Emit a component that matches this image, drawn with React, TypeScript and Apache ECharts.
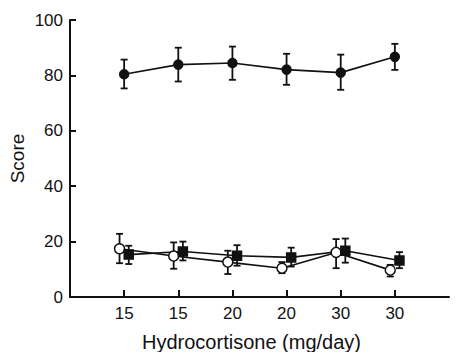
import React, { useEffect, useRef } from "react";
import * as echarts from "echarts";

const doses = ["15", "15", "20", "20", "30", "30"];
const yTicks = [0, 20, 40, 60, 80, 100];

// top series (filled circles)
const filledMean = [80.4, 83.9, 84.5, 82.1, 81.0, 86.7];
const filledLow = [75.3, 77.8, 78.4, 76.6, 74.8, 82.0];
const filledHigh = [85.7, 90.0, 90.4, 87.8, 87.5, 91.4];

// open circles
const openMean = [17.4, 14.8, 12.6, 10.4, 16.1, 9.7];
const openLow = [12.2, 10.2, 8.3, 8.6, 10.4, 7.4];
const openHigh = [22.8, 19.7, 16.7, 12.6, 20.9, 11.6];

// filled squares
const squareMean = [15.3, 16.4, 14.9, 14.3, 16.7, 13.2];
const squareLow = [11.9, 13.2, 11.3, 11.0, 12.4, 10.4];
const squareHigh = [18.5, 20.0, 18.7, 17.8, 21.1, 16.2];

const OPEN_SHIFT = -0.085;
const SQUARE_SHIFT = 0.085;
const FONT = "'Liberation Sans', Arial, Helvetica, sans-serif";
const INK = "#111";

function pts(vals: number[], shift: number) {
  return vals.map((v, i) => [i + 1 + shift, v]);
}
function bars(low: number[], high: number[], shift: number) {
  return low.map((l, i) => [i + 1 + shift, l, high[i]]);
}

function errorSeries(data: number[][]) {
  return {
    type: "custom",
    z: 2,
    data,
    renderItem: (params: any, api: any) => {
      const x = api.value(0);
      const lo = api.coord([x, api.value(1)]);
      const hi = api.coord([x, api.value(2)]);
      const w = 3.5;
      const style = { stroke: INK, lineWidth: 1.8 };
      return {
        type: "group",
        children: [
          { type: "line", shape: { x1: hi[0], y1: hi[1], x2: lo[0], y2: lo[1] }, style },
          { type: "line", shape: { x1: hi[0] - w, y1: hi[1], x2: hi[0] + w, y2: hi[1] }, style },
          { type: "line", shape: { x1: lo[0] - w, y1: lo[1], x2: lo[0] + w, y2: lo[1] }, style },
        ],
      };
    },
  };
}

function lineSeries(data: number[][], symbol: string, size: number, fill: string) {
  return {
    type: "line",
    z: 5,
    data,
    symbol,
    symbolSize: size,
    showAllSymbol: true,
    lineStyle: { color: INK, width: 1.6 },
    itemStyle: { color: fill, borderColor: INK, borderWidth: 1.5 },
  };
}

export default function App() {
  const ref = useRef<HTMLDivElement>(null);
  useEffect(() => {
    if (!ref.current) return;
    const chart = echarts.init(ref.current, undefined, { renderer: "svg" });
    chart.setOption({
      animation: false,
      backgroundColor: "#fff",
      grid: { left: 62, right: 7, top: 12, bottom: 55, containLabel: false, outerBoundsMode: "none" },
      xAxis: {
        type: "value",
        min: 0,
        max: 7,
        interval: 1,
        name: "Hydrocortisone (mg/day)",
        nameLocation: "middle",
        nameGap: 35,
        nameMoveOverlap: false,
        nameTextStyle: { fontFamily: FONT, fontSize: 20, color: INK, padding: [0, 16, 0, 0] },
        axisLine: { lineStyle: { color: INK, width: 2 } },
        axisTick: {
          show: true,
          inside: true,
          length: 7,
          customValues: [1, 2, 3, 4, 5, 6],
          lineStyle: { color: INK, width: 2 },
        },
        axisLabel: {
          customValues: [1, 2, 3, 4, 5, 6],
          formatter: (v: number) => doses[Math.round(v) - 1] ?? "",
          fontFamily: FONT,
          fontSize: 17,
          color: INK,
          margin: 8,
        },
        splitLine: { show: false },
      },
      yAxis: {
        type: "value",
        min: 0,
        max: 100,
        interval: 20,
        name: "Score",
        nameLocation: "middle",
        nameGap: 44,
        nameMoveOverlap: false,
        nameTextStyle: { fontFamily: FONT, fontSize: 19, lineHeight: 18, color: INK },
        axisLine: { show: true, lineStyle: { color: INK, width: 2 } },
        axisTick: {
          show: true,
          inside: true,
          length: 6,
          customValues: yTicks,
          lineStyle: { color: INK, width: 2 },
        },
        axisLabel: {
          customValues: yTicks,
          fontFamily: FONT,
          fontSize: 17,
          color: INK,
          margin: 7,
        },
        splitLine: { show: false },
      },
      series: [
        errorSeries(bars(filledLow, filledHigh, 0)),
        errorSeries(bars(openLow, openHigh, OPEN_SHIFT)),
        errorSeries(bars(squareLow, squareHigh, SQUARE_SHIFT)),
        lineSeries(pts(filledMean, 0), "circle", 9, INK),
        lineSeries(pts(openMean, OPEN_SHIFT), "circle", 10, "#fff"),
        lineSeries(pts(squareMean, SQUARE_SHIFT), "rect", 9, INK),
      ],
    });
    return () => chart.dispose();
  }, []);
  return <div ref={ref} style={{ width: 448, height: 344 }} />;
}
